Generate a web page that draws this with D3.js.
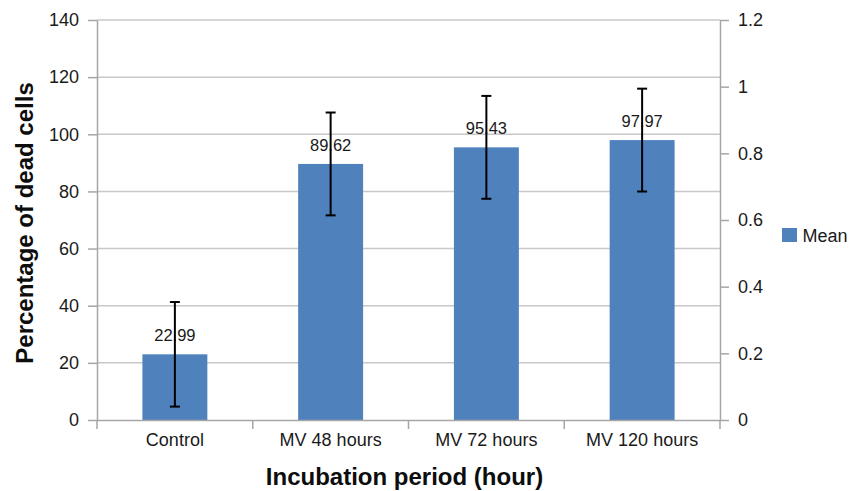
<!DOCTYPE html>
<html>
<head>
<meta charset="utf-8">
<script src="https://cdn.jsdelivr.net/npm/d3@7"></script>
<style>
  html, body { margin: 0; padding: 0; background: #fff; }
  svg { display: block; font-family: "Liberation Sans", Arial, sans-serif; }
</style>
</head>
<body>
<svg id="chart" width="851" height="491"></svg>
<script>
const categories = ["Control", "MV 48 hours", "MV 72 hours", "MV 120 hours"];
const meanValues = [22.99, 89.62, 95.43, 97.97];
const errorValues = [18.3, 18.0, 18.0, 18.0];
const leftTicks = [0, 20, 40, 60, 80, 100, 120, 140];
const rightTicks = [0, 0.2, 0.4, 0.6, 0.8, 1, 1.2];
const seriesName = "Mean";

const svg = d3.select("#chart");
const margin = { left: 97, right: 131, top: 20, bottom: 71 };
const W = 851, H = 491;
const x0 = margin.left, x1 = W - margin.right;
const y0 = H - margin.bottom, y1 = margin.top;

const x = d3.scaleBand().domain(categories).range([x0, x1]).paddingInner(0.583).paddingOuter(0.2915);
const xb = d3.scaleBand().domain(categories).range([x0, x1]);
const y = d3.scaleLinear().domain([0, 140]).range([y0, y1]);
const yR = d3.scaleLinear().domain([0, 1.2]).range([y0, y1]);

const gridColor = "#c8c8c8";
const axisColor = "#a6a6a6";
const barColor = "#4f81bd";
const textColor = "#1a1a1a";

// gridlines
svg.append("g").selectAll("line").data(leftTicks.filter(d => d > 0)).join("line")
  .attr("x1", x0).attr("x2", x1)
  .attr("y1", d => y(d)).attr("y2", d => y(d))
  .attr("stroke", gridColor).attr("stroke-width", 1.5);

// bars
svg.append("g").selectAll("rect").data(meanValues).join("rect")
  .attr("x", (d, i) => x(categories[i]))
  .attr("width", x.bandwidth())
  .attr("y", d => y(d))
  .attr("height", d => y(0) - y(d))
  .attr("fill", barColor);

// value labels
svg.append("g").selectAll("text").data(meanValues).join("text")
  .attr("x", (d, i) => x(categories[i]) + x.bandwidth() / 2)
  .attr("y", d => y(d) - 13)
  .attr("text-anchor", "middle")
  .attr("font-size", 16.5)
  .attr("fill", textColor)
  .text(d => d.toFixed(2));

// error bars
const eg = svg.append("g").attr("stroke", "#000").attr("stroke-width", 2);
meanValues.forEach((v, i) => {
  const cx = x(categories[i]) + x.bandwidth() / 2;
  const hi = y(v + errorValues[i]), lo = y(v - errorValues[i]);
  eg.append("line").attr("x1", cx).attr("x2", cx).attr("y1", hi).attr("y2", lo);
  eg.append("line").attr("x1", cx - 5).attr("x2", cx + 5).attr("y1", hi).attr("y2", hi);
  eg.append("line").attr("x1", cx - 5).attr("x2", cx + 5).attr("y1", lo).attr("y2", lo);
});

// left axis
const gl = svg.append("g").attr("transform", `translate(${x0},0)`)
  .call(d3.axisLeft(y).tickValues(leftTicks).tickSize(9).tickPadding(9).tickSizeOuter(0));
// right axis
const gr = svg.append("g").attr("transform", `translate(${x1},0)`)
  .call(d3.axisRight(yR).tickValues(rightTicks).tickSize(9).tickPadding(9).tickSizeOuter(0)
    .tickFormat(d => d3.format("")(+d.toFixed(1))));
// bottom axis
const gb = svg.append("g").attr("transform", `translate(0,${y0})`)
  .call(d3.axisBottom(xb).tickSize(0).tickPadding(13).tickSizeOuter(0));
// bottom boundary ticks
svg.append("g").selectAll("line").data(d3.range(categories.length + 1)).join("line")
  .attr("x1", i => x0 + i * xb.step()).attr("x2", i => x0 + i * xb.step())
  .attr("y1", y0).attr("y2", y0 + 9)
  .attr("stroke", axisColor).attr("stroke-width", 1.5);

[gl, gr, gb].forEach(g => {
  g.attr("font-size", 18).attr("font-family", "Liberation Sans, Arial, sans-serif");
  g.select(".domain").attr("stroke", axisColor).attr("stroke-width", 1.5);
  g.selectAll(".tick line").attr("stroke", axisColor).attr("stroke-width", 1.5);
  g.selectAll(".tick text").attr("font-size", 18).attr("fill", textColor);
});

// axis titles
svg.append("text")
  .attr("x", (x0 + x1) / 2 - 4).attr("y", 485)
  .attr("text-anchor", "middle")
  .attr("font-size", 24).attr("font-weight", "bold").attr("fill", "#0d0d0d")
  .text("Incubation period (hour)");
svg.append("text")
  .attr("transform", `translate(33,${(y0 + y1) / 2 + 3}) rotate(-90)`)
  .attr("text-anchor", "middle")
  .attr("font-size", 24).attr("font-weight", "bold").attr("fill", "#0d0d0d")
  .text("Percentage of dead cells");

// legend
const lg = svg.append("g").attr("transform", "translate(782,228)");
lg.append("rect").attr("width", 15).attr("height", 14).attr("fill", barColor);
lg.append("text").attr("x", 20.5).attr("y", 14).attr("font-size", 18).attr("fill", textColor).text(seriesName);
</script>
</body>
</html>
